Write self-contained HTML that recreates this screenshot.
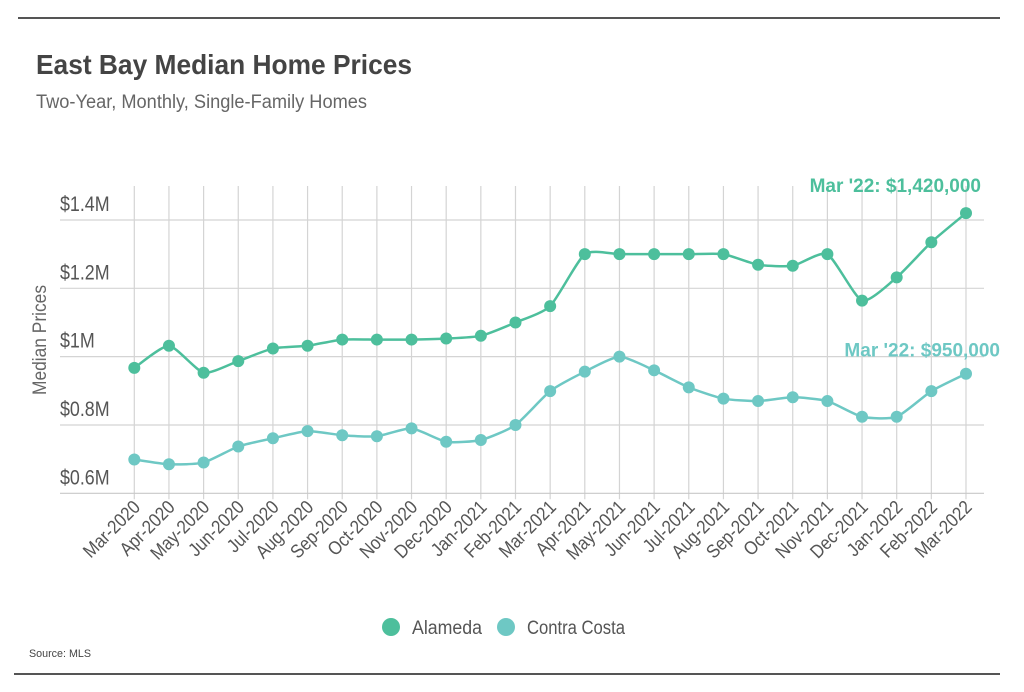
<!DOCTYPE html>
<html><head><meta charset="utf-8">
<style>
html,body{margin:0;padding:0;background:#fff;}
body{width:1024px;height:692px;overflow:hidden;position:relative;font-family:"Liberation Sans",sans-serif;}
svg{position:absolute;left:0;top:0;}
</style></head>
<body>
<svg id="chart" width="1024" height="692">
<line x1="18" y1="18" x2="1000" y2="18" stroke="#555" stroke-width="2"/>
<line x1="14" y1="674" x2="1000" y2="674" stroke="#555" stroke-width="2"/>
<text x="36" y="74" font-size="28" font-weight="bold" fill="#444" textLength="376" lengthAdjust="spacingAndGlyphs">East Bay Median Home Prices</text>
<text x="36" y="108" font-size="19" fill="#666" textLength="331" lengthAdjust="spacingAndGlyphs">Two-Year, Monthly, Single-Family Homes</text>
<text transform="translate(46,340) rotate(-90)" text-anchor="middle" font-size="19" fill="#666" textLength="110" lengthAdjust="spacingAndGlyphs">Median Prices</text>
<g id="grid"></g><g id="series"></g><g id="labels"></g>
<g>
<circle cx="391" cy="627" r="9" fill="#4dbf9c"/>
<text x="412" y="634" font-size="19" fill="#555" textLength="70" lengthAdjust="spacingAndGlyphs">Alameda</text>
<circle cx="506" cy="627" r="9" fill="#6ec8c4"/>
<text x="527" y="634" font-size="19" fill="#555" textLength="98" lengthAdjust="spacingAndGlyphs">Contra Costa</text>
</g>
<text x="29" y="657" font-size="11" fill="#444" textLength="62" lengthAdjust="spacingAndGlyphs">Source:  MLS</text>
</svg>
<script>
const categories=["Mar-2020","Apr-2020","May-2020","Jun-2020","Jul-2020","Aug-2020","Sep-2020","Oct-2020","Nov-2020","Dec-2020","Jan-2021","Feb-2021","Mar-2021","Apr-2021","May-2021","Jun-2021","Jul-2021","Aug-2021","Sep-2021","Oct-2021","Nov-2021","Dec-2021","Jan-2022","Feb-2022","Mar-2022"];
const alameda=[0.967,1.032,0.953,0.987,1.024,1.032,1.05,1.05,1.05,1.053,1.061,1.10,1.148,1.30,1.30,1.30,1.30,1.30,1.269,1.266,1.30,1.164,1.232,1.335,1.42];
const contraCosta=[0.699,0.685,0.690,0.737,0.761,0.782,0.770,0.767,0.790,0.751,0.756,0.80,0.899,0.956,1.0,0.96,0.91,0.877,0.87,0.881,0.87,0.824,0.824,0.899,0.95];
const yTicks=[0.6,0.8,1.0,1.2,1.4];
const yTickLabels=["$0.6M","$0.8M","$1M","$1.2M","$1.4M"];
const annotations=["Mar '22: $1,420,000","Mar '22: $950,000"];

const NS="http://www.w3.org/2000/svg";
const x0=134.3,x1=966,yBase=493.3,yTop=220,vMin=0.6,vMax=1.4;
function xs(i){return x0+(x1-x0)*i/(categories.length-1);}
function ys(v){return yBase-(v-vMin)/(vMax-vMin)*(yBase-yTop);}
function mk(tag,attrs,parent){const e=document.createElementNS(NS,tag);for(const k in attrs)e.setAttribute(k,attrs[k]);parent.appendChild(e);return e;}
const grid=document.getElementById('grid'),series=document.getElementById('series'),labels=document.getElementById('labels');
categories.forEach((c,i)=>{
  const l=mk('line',{x1:xs(i),x2:xs(i),y1:186,y2:yBase+6,stroke:'#d4d4d4','stroke-width':1.2},grid);
  
  
  const t=mk('text',{x:0,y:0,'text-anchor':'end','font-size':19,fill:'#555',transform:`translate(${xs(i)+7},${yBase+15}) rotate(-45) scale(0.88,1)`},labels);
  t.textContent=c;
  
  
});
yTicks.forEach((v,i)=>{
  const l=mk('line',{x1:60,x2:984,y1:ys(v),y2:ys(v),stroke:i===0?'#c8c8c8':'#d4d4d4','stroke-width':1.2},grid);
  
  
  const t=mk('text',{x:0,y:0,'font-size':21,fill:'#555',transform:`translate(60,${ys(v)-9}) scale(0.85,1)`},labels);
  t.textContent=yTickLabels[i];
  
  
});
function smooth(pts){let d=`M${pts[0][0]},${pts[0][1]}`;for(let i=0;i<pts.length-1;i++){const p0=pts[i-1]||pts[i],p1=pts[i],p2=pts[i+1],p3=pts[i+2]||p2;const t=0.1;d+=` C${p1[0]+(p2[0]-p0[0])*t},${p1[1]+(p2[1]-p0[1])*t} ${p2[0]-(p3[0]-p1[0])*t},${p2[1]-(p3[1]-p1[1])*t} ${p2[0]},${p2[1]}`;}return d;}
function drawSeries(vals,color,name){
  const pts=vals.map((v,i)=>[xs(i),ys(v)]);
  const p=mk('path',{d:smooth(pts),fill:'none',stroke:color,'stroke-width':2.5},series);
  
  
  pts.forEach(q=>{
    const c=mk('circle',{cx:q[0],cy:q[1],r:6,fill:color},series);
    
    
  });
}
drawSeries(alameda,'#4dbf9c','alameda');
drawSeries(contraCosta,'#6ec8c4','contra-costa');
const a1=mk('text',{x:981,y:ys(alameda[alameda.length-1])-21,'text-anchor':'end','font-size':19,'font-weight':'bold',fill:'#4dbf9c'},labels);
a1.textContent=annotations[0];


const a2=mk('text',{x:1000,y:ys(contraCosta[contraCosta.length-1])-17,'text-anchor':'end','font-size':19,'font-weight':'bold',fill:'#6ec8c4'},labels);
a2.textContent=annotations[1];


</script>
</body></html>
